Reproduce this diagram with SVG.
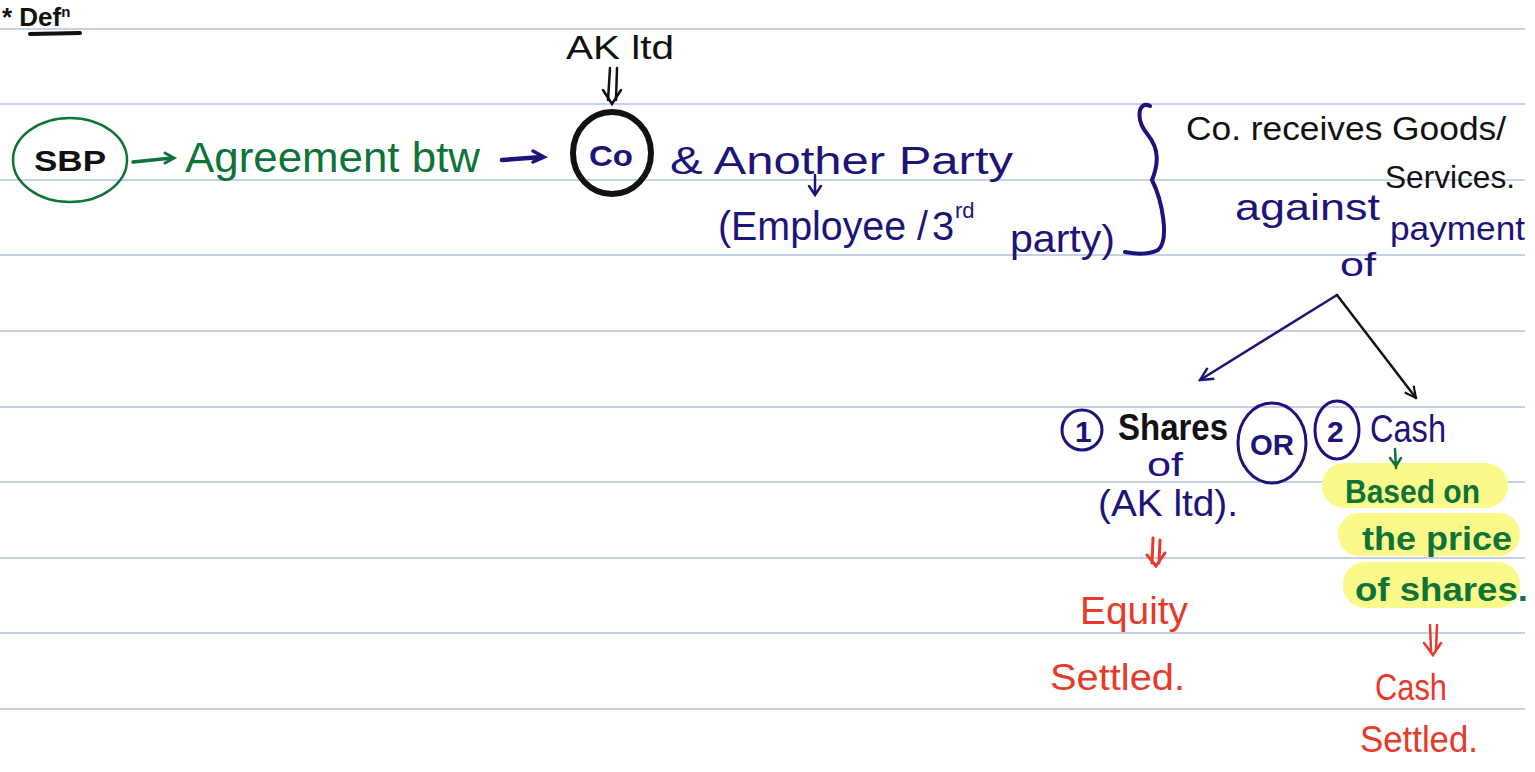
<svg xmlns="http://www.w3.org/2000/svg" width="1535" height="772" viewBox="0 0 1535 772">
<defs>
<style>
.rule{stroke:#b3c2dc;stroke-width:1.5}
text{font-family:"Liberation Sans",Arial,sans-serif}
.k{fill:#111}
.n{fill:#1c1478}
.g{fill:#0d7338}
.r{fill:#e8392a}
.sk{stroke:#111;fill:none;stroke-linecap:round}
.sn{stroke:#1c1478;fill:none;stroke-linecap:round}
.sg{stroke:#0d7338;fill:none;stroke-linecap:round}
.sr{stroke:#e8392a;fill:none;stroke-linecap:round}
.hl{fill:#fbf98a}
</style>
<marker id="ak" viewBox="0 0 10 10" refX="9" refY="5" markerWidth="14" markerHeight="14" orient="auto" markerUnits="userSpaceOnUse">
<path d="M1,1 L9,5 L1,9" fill="none" stroke="#111" stroke-width="1.5"/>
</marker>
<marker id="an2" viewBox="0 0 10 10" refX="9" refY="5" markerWidth="16" markerHeight="16" orient="auto" markerUnits="userSpaceOnUse">
<path d="M1,1 L9,5 L1,9" fill="none" stroke="#1c1478" stroke-width="1.5"/>
</marker>
</defs>
<rect width="1535" height="772" fill="#fff"/>
<g id="rules">
<line class="rule" x1="0" y1="29" x2="1525" y2="29"/>
<line class="rule" x1="0" y1="104" x2="1525" y2="104"/>
<line class="rule" x1="0" y1="180" x2="1525" y2="180"/>
<line class="rule" x1="0" y1="255" x2="1525" y2="255"/>
<line class="rule" x1="0" y1="331" x2="1525" y2="331"/>
<line class="rule" x1="0" y1="407" x2="1525" y2="407"/>
<line class="rule" x1="0" y1="482" x2="1525" y2="482"/>
<line class="rule" x1="0" y1="558" x2="1525" y2="558"/>
<line class="rule" x1="0" y1="633" x2="1525" y2="633"/>
<line class="rule" x1="0" y1="709" x2="1525" y2="709"/>
</g>
<g id="title">
<text class="k" x="2" y="26" font-size="26" font-weight="bold">* Def<tspan font-size="15" dy="-9">n</tspan></text>
<line class="sk" x1="30" y1="34" x2="80" y2="33" stroke-width="4"/>
</g>
<g id="akltd">
<text class="k" x="566" y="59" font-size="34" textLength="108" lengthAdjust="spacingAndGlyphs">AK ltd</text>
</g>
<g id="sbp">
<ellipse cx="70" cy="160" rx="57" ry="42" class="sg" stroke-width="2.5"/>
<text class="k" x="34" y="171" font-size="30" font-weight="bold" textLength="72" lengthAdjust="spacingAndGlyphs">SBP</text>
</g>
<g id="agreement">
<text class="g" x="185" y="172" font-size="42" textLength="295" lengthAdjust="spacingAndGlyphs">Agreement btw</text>
</g>
<g id="co">
<ellipse cx="612" cy="153" rx="39" ry="41" class="sk" stroke-width="6"/>
<text class="n" x="589" y="166" font-size="30" font-weight="bold" textLength="44" lengthAdjust="spacingAndGlyphs">Co</text>
</g>
<g id="another">
<text class="n" x="670" y="174" font-size="38" textLength="343" lengthAdjust="spacingAndGlyphs">&amp;  Another Party</text>
</g>
<g id="employee">
<text class="n" x="718" y="240" font-size="40" textLength="210" lengthAdjust="spacingAndGlyphs">(Employee /</text>
<text class="n" x="932" y="240" font-size="40">3</text>
<text class="n" x="955" y="218" font-size="22">rd</text>
<text class="n" x="1010" y="252" font-size="38" textLength="105" lengthAdjust="spacingAndGlyphs">party)</text>
</g>
<g id="brace">
<path class="sn" stroke-width="4" d="M1150,106 C1138,100 1135,120 1148,135 C1160,150 1158,165 1152,180 C1162,200 1170,240 1158,250 C1148,255 1135,254 1125,252"/>
</g>
<g id="receives">
<text class="k" x="1186" y="140" font-size="34" textLength="320" lengthAdjust="spacingAndGlyphs">Co. receives Goods/</text>
<text class="k" x="1385" y="188" font-size="32" textLength="130" lengthAdjust="spacingAndGlyphs">Services.</text>
</g>
<g id="against">
<text class="n" x="1235" y="220" font-size="36" textLength="145" lengthAdjust="spacingAndGlyphs">against</text>
<text class="n" x="1390" y="240" font-size="34" textLength="135" lengthAdjust="spacingAndGlyphs">payment</text>
<text class="n" x="1340" y="276" font-size="34" textLength="36" lengthAdjust="spacingAndGlyphs">of</text>
</g>
<g id="shares">
<circle cx="1082" cy="430" r="20" class="sn" stroke-width="3"/>
<text class="n" x="1075" y="442" font-size="30" font-weight="bold">1</text>
<text class="k" x="1118" y="440" font-size="36" font-weight="bold" textLength="110" lengthAdjust="spacingAndGlyphs">Shares</text>
<text class="n" x="1147" y="476" font-size="34" textLength="36" lengthAdjust="spacingAndGlyphs">of</text>
<text class="n" x="1098" y="516" font-size="36" textLength="140" lengthAdjust="spacingAndGlyphs">(AK ltd).</text>
</g>
<g id="or">
<ellipse cx="1272" cy="443" rx="34" ry="40" class="sn" stroke-width="3"/>
<text class="n" x="1250" y="455" font-size="30" font-weight="bold" textLength="44" lengthAdjust="spacingAndGlyphs">OR</text>
</g>
<g id="cash">
<ellipse cx="1337" cy="430" rx="22" ry="29" class="sn" stroke-width="3"/>
<text class="n" x="1327" y="442" font-size="30" font-weight="bold">2</text>
<text class="n" x="1370" y="442" font-size="38" textLength="76" lengthAdjust="spacingAndGlyphs">Cash</text>
</g>
<g id="based">
<rect class="hl" x="1322" y="463" width="186" height="45" rx="22"/>
<rect class="hl" x="1338" y="513" width="182" height="43" rx="21"/>
<rect class="hl" x="1343" y="562" width="177" height="46" rx="22"/>
<text class="g" x="1345" y="503" font-size="34" font-weight="bold" textLength="135" lengthAdjust="spacingAndGlyphs">Based on</text>
<text class="g" x="1362" y="550" font-size="34" font-weight="bold" textLength="150" lengthAdjust="spacingAndGlyphs">the price</text>
<text class="g" x="1355" y="601" font-size="34" font-weight="bold" textLength="173" lengthAdjust="spacingAndGlyphs">of shares.</text>
</g>
<g id="equity">
<text class="r" x="1080" y="624" font-size="38" textLength="108" lengthAdjust="spacingAndGlyphs">Equity</text>
<text class="r" x="1050" y="690" font-size="36" textLength="135" lengthAdjust="spacingAndGlyphs">Settled.</text>
</g>
<g id="cashsettled">
<text class="r" x="1375" y="700" font-size="36" textLength="72" lengthAdjust="spacingAndGlyphs">Cash</text>
<text class="r" x="1360" y="752" font-size="36" textLength="118" lengthAdjust="spacingAndGlyphs">Settled.</text>
</g>
<g id="connectors">
<line class="sk" x1="610" y1="68" x2="608" y2="100" stroke-width="2.5"/>
<line class="sk" x1="617" y1="68" x2="616" y2="100" stroke-width="2.5"/>
<path class="sk" stroke-width="2.5" d="M603,90 L612,104 L621,90"/>
<path class="sg" stroke-width="3.5" d="M133,162 L172,158"/>
<path class="sg" stroke-width="3" d="M165,153 L174,158 L165,163"/>
<path class="sn" stroke-width="4.5" d="M502,160 L542,157"/>
<path class="sn" stroke-width="3.5" d="M533,151 L544,157 L533,162"/>
<path class="sn" stroke-width="2.5" d="M815,175 L815,194 M809,186 L815,195 L821,186"/>
<line class="sn" x1="1337" y1="295" x2="1200" y2="380" stroke-width="2.5" marker-end="url(#an2)"/>
<line class="sk" x1="1337" y1="295" x2="1416" y2="398" stroke-width="2.5" marker-end="url(#ak)"/>
<path class="sg" stroke-width="2.5" d="M1395,449 L1396,468 M1390,458 L1396,466 L1401,458"/>
<path class="sr" stroke-width="3" d="M1153,538 L1152,563 M1160,540 L1159,563 M1147,555 L1156,566 L1165,553"/>
<path class="sr" stroke-width="2.5" d="M1430,625 L1431,650 M1437,625 L1436,650 M1424,643 L1433,655 L1441,643"/>
</g>
</svg>
